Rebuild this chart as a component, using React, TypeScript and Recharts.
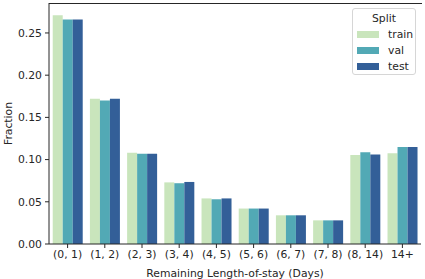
import { Bar, BarChart, Label, Legend, XAxis, YAxis } from "recharts";

const categories = ["(0, 1)", "(1, 2)", "(2, 3)", "(3, 4)", "(4, 5)", "(5, 6)", "(6, 7)", "(7, 8)", "(8, 14)", "14+"];
const train = [0.271, 0.172, 0.108, 0.073, 0.054, 0.042, 0.034, 0.028, 0.1055, 0.1075];
const val = [0.266, 0.17, 0.107, 0.072, 0.053, 0.042, 0.034, 0.028, 0.1087, 0.115];
const test = [0.266, 0.172, 0.107, 0.0735, 0.054, 0.042, 0.034, 0.028, 0.106, 0.115];
const yTicks = [0, 0.05, 0.1, 0.15, 0.2, 0.25];
const yMax = 0.2855;

const series = [
  { key: "train", color: "#c9e5bc" },
  { key: "val", color: "#52a9b5" },
  { key: "test", color: "#335f98" },
];

const data = categories.map((c, i) => ({ cat: c, train: train[i], val: val[i], test: test[i] }));

const font = "'DejaVu Sans', sans-serif";
const ink = "#262626";

function SplitLegend() {
  return (
    <div
      style={{
        width: 64,
        height: 67,
        boxSizing: "border-box",
        border: "1px solid #d6d6d6",
        borderRadius: 3,
        background: "rgba(255,255,255,0.8)",
        fontFamily: font,
        fontSize: 10.8,
        color: ink,
        padding: "2px 0 0 4px",
      }}
    >
      <div style={{ textAlign: "center", marginLeft: -4, lineHeight: "15px" }}>Split</div>
      {series.map((s) => (
        <div key={s.key} style={{ display: "flex", alignItems: "center", height: 16 }}>
          <span style={{ width: 22, height: 7, background: s.color, display: "inline-block" }} />
          <span style={{ marginLeft: 9 }}>{s.key}</span>
        </div>
      ))}
    </div>
  );
}

export default function App() {
  return (
    <div style={{ position: "absolute", left: 0, top: 0, width: 425, height: 279, background: "#fff" }}>
      <BarChart
        width={425}
        height={279}
        data={data}
        margin={{ top: 3, right: 4, left: 0, bottom: 0 }}
        barCategoryGap="10%"
        barGap={0}
      >
        <XAxis
          dataKey="cat"
          height={35}
          interval={0}
          stroke={ink}
          tickSize={4}
          tick={{ fill: ink, fontSize: 10.8, fontFamily: font }}
          tickMargin={2}
        >
          <Label
            value="Remaining Length-of-stay (Days)"
            position="insideBottom"
            offset={2}
            style={{ fill: ink, fontSize: 10.8, fontFamily: font }}
          />
        </XAxis>
        <YAxis
          domain={[0, yMax]}
          ticks={yTicks}
          width={49}
          stroke={ink}
          tickSize={4}
          tickMargin={3}
          tickFormatter={(v: number) => v.toFixed(2)}
          tick={{ fill: ink, fontSize: 10.8, fontFamily: font }}
        >
          <Label
            value="Fraction"
            angle={-90}
            position="insideLeft"
            offset={8}
            style={{ fill: ink, fontSize: 10.8, fontFamily: font, textAnchor: "middle" }}
          />
        </YAxis>
        <YAxis yAxisId="right" orientation="right" width={0} tick={false} tickLine={false} stroke={ink} domain={[0, 1]} />
        <Legend
          layout="horizontal"
          verticalAlign="middle"
          align="center"
          content={() => <SplitLegend />}
          wrapperStyle={{ left: 352, top: 8, width: 64 }}
        />
        {series.map((s) => (
          <Bar key={s.key} dataKey={s.key} fill={s.color} isAnimationActive={false} />
        ))}
      </BarChart>
      {/* top spine */}
      <div style={{ position: "absolute", left: 49, top: 3, width: 373, height: 1, background: ink, zIndex: 10 }} />
    </div>
  );
}
